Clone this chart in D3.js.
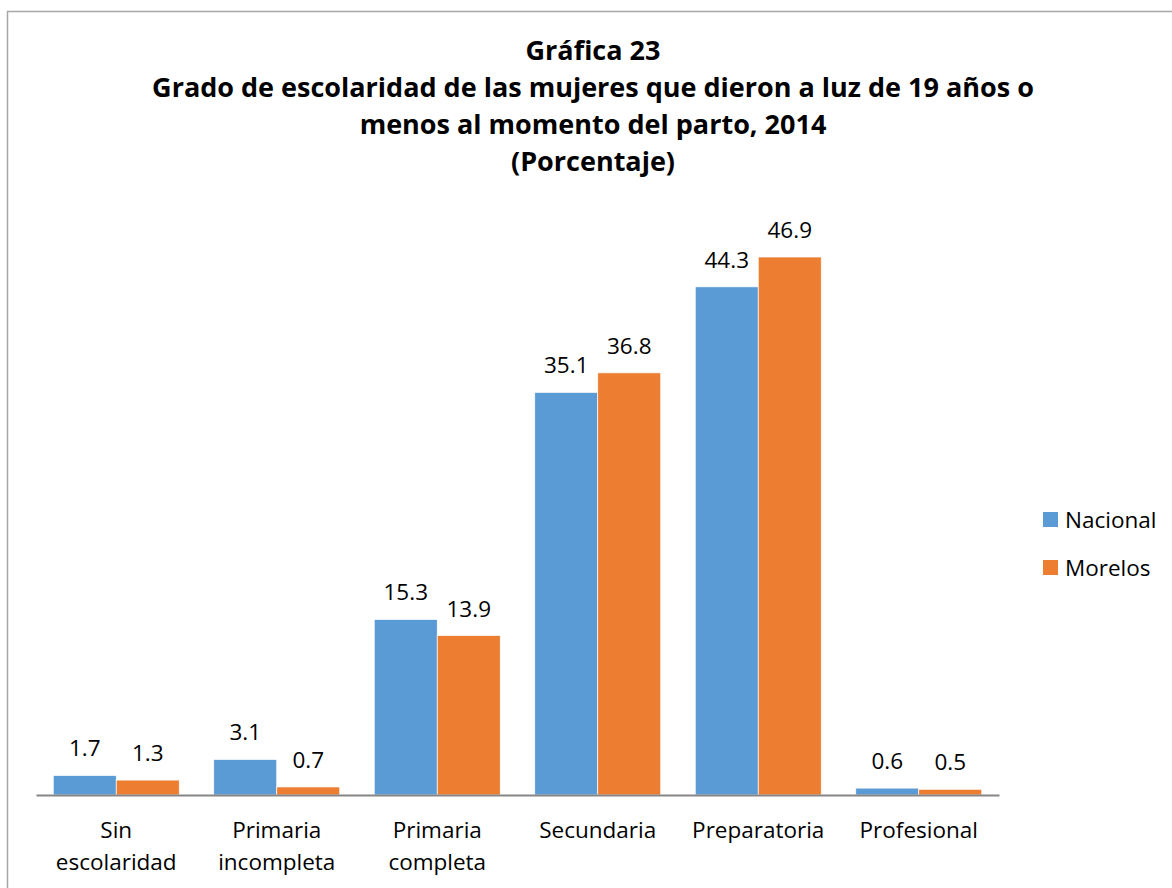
<!DOCTYPE html>
<html>
<head>
<meta charset="utf-8">
<script src="https://cdn.jsdelivr.net/npm/d3@7"></script>
<style>
  body { margin: 0; background: #fff; }
  svg { font-family: "Open Sans", Lato, sans-serif; }
</style>
</head>
<body>
<div id="chart"></div>
<script>
// data
var categories = [["Sin", "escolaridad"], ["Primaria", "incompleta"], ["Primaria", "completa"], ["Secundaria"], ["Preparatoria"], ["Profesional"]];
var seriesNames = ["Nacional", "Morelos"];
var nacional = [1.7, 3.1, 15.3, 35.1, 44.3, 0.6];
var morelos = [1.3, 0.7, 13.9, 36.8, 46.9, 0.5];
var titleLines = ["Gráfica 23", "Grado de escolaridad de las mujeres que dieron a luz de 19 años o", "menos al momento del parto, 2014", "(Porcentaje)"];

var colors = ["#5b9bd5", "#ed7d31"];
var width = 1172, height = 888;

var svg = d3.select("#chart").append("svg")
  .attr("width", width)
  .attr("height", height);

// outer border
svg.append("rect")
  .attr("x", 7.5).attr("y", 11.5)
  .attr("width", 1180).attr("height", 900)
  .attr("fill", "none").attr("stroke", "#a6a6a6").attr("stroke-width", 1.5);

// title
svg.append("g").selectAll("text")
  .data(titleLines)
  .enter().append("text")
  .attr("x", 593)
  .attr("y", function(d, i) { return 60 + i * 37; })
  .attr("text-anchor", "middle")
  .style("font-size", "27px")
  .style("font-weight", "bold")
  .text(function(d) { return d; });

var left = 36, right = 999, baseY = 795;

var x0 = d3.scaleBand()
  .domain(d3.range(categories.length))
  .range([left, right])
  .paddingInner(0.215)
  .paddingOuter(0.1075);

var x1 = d3.scaleBand()
  .domain(seriesNames)
  .range([0, x0.bandwidth()]);

var y = d3.scaleLinear()
  .domain([0, 46.9])
  .range([baseY, 257]);

var data = categories.map(function(c, i) {
  return { i: i, values: [ {name: "Nacional", v: nacional[i]}, {name: "Morelos", v: morelos[i]} ] };
});

var groups = svg.append("g").selectAll("g")
  .data(data)
  .enter().append("g")
  .attr("transform", function(d) { return "translate(" + x0(d.i) + ",0)"; });

groups.selectAll("rect")
  .data(function(d) { return d.values; })
  .enter().append("rect")
  .attr("x", function(d) { return x1(d.name); })
  .attr("y", function(d) { return y(d.v); })
  .attr("width", x1.bandwidth())
  .attr("height", function(d) { return baseY - y(d.v); })
  .attr("fill", function(d, j) { return colors[j]; })
  .attr("stroke", "#fff")
  .attr("stroke-width", 0.7);

groups.selectAll("text")
  .data(function(d) { return d.values; })
  .enter().append("text")
  .attr("x", function(d) { return x1(d.name) + x1.bandwidth() / 2; })
  .attr("y", function(d) { return y(d.v) - 19; })
  .attr("text-anchor", "middle")
  .style("font-size", "22.5px")
  .text(function(d) { return d.v.toFixed(1); });

// x axis
var xAxis = svg.append("g")
  .attr("transform", "translate(0," + baseY + ")")
  .call(d3.axisBottom(x0).tickSize(0).tickFormat(""));
xAxis.select(".domain").attr("stroke", "#868686").attr("stroke-width", 2);

var labels = svg.append("g").selectAll("text")
  .data(categories)
  .enter().append("text")
  .attr("x", function(d, i) { return x0(i) + x0.bandwidth() / 2; })
  .attr("y", 838)
  .attr("text-anchor", "middle")
  .style("font-size", "22.5px");
labels.selectAll("tspan")
  .data(function(d) { return d; })
  .enter().append("tspan")
  .attr("x", function() { return d3.select(this.parentNode).attr("x"); })
  .attr("dy", function(d, i) { return i ? 32 : 0; })
  .text(function(d) { return d; });

// legend
var legend = svg.append("g").selectAll("g")
  .data(seriesNames)
  .enter().append("g")
  .attr("transform", function(d, i) { return "translate(1043," + (512 + i * 48) + ")"; });
legend.append("rect")
  .attr("width", 15).attr("height", 15)
  .attr("fill", function(d, i) { return colors[i]; });
legend.append("text")
  .attr("x", 22).attr("y", 16)
  .style("font-size", "22.5px")
  .text(function(d) { return d; });
</script>
</body>
</html>
